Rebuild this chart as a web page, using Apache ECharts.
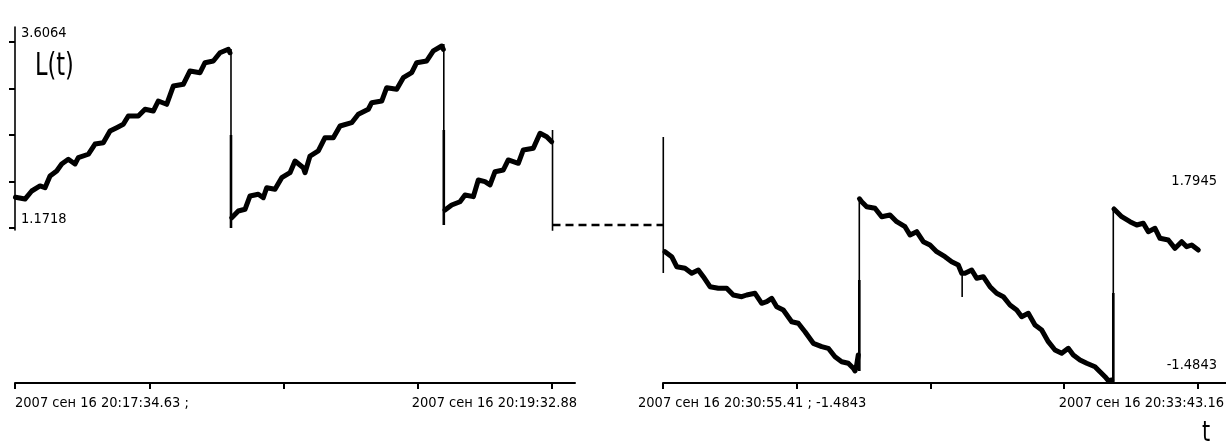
<!DOCTYPE html>
<html>
<head>
<meta charset="utf-8">
<script src="https://cdn.jsdelivr.net/npm/echarts@6/dist/echarts.min.js"></script>
<style>
  html, body { margin: 0; padding: 0; background: #fff; }
  #chart { width: 1226px; height: 443px; }
</style>
</head>
<body>
<div id="chart"></div>
<script>
// Time axis of each window: seconds from its first timestamp. Values: L(t).
const leftTimeLabels = ['2007 сен 16 20:17:34.63 ;', '2007 сен 16 20:19:32.88'];
const rightTimeLabels = ['2007 сен 16 20:30:55.41 ; -1.4843', '2007 сен 16 20:33:43.16'];

const leftTickTimes = [0, 29.5625, 59.125, 88.6875, 118.25];      // 20:17:34.63 … 20:19:32.88
const rightTickTimes = [0, 41.9375, 83.875, 125.8125, 167.75];    // 20:30:55.41 … 20:33:43.16
const leftValueTicks = [1.1718, 1.78045, 2.3891, 2.99775, 3.6064];
const leftValueLabels = [1.1718, 3.6064];
const rightValueLabels = [-1.4843, 1.7945];

// first window: three ramps
const leftRun1 = [[0.1,1.575],[0.37,1.568],[2.20,1.551],[3.68,1.656],[5.51,1.722],[6.61,1.699],[7.71,1.852],[9.18,1.918],[10.28,2.010],[11.74,2.071],[13.21,2.010],[13.94,2.092],[16.14,2.137],[17.62,2.271],[19.44,2.288],[20.92,2.441],[22.39,2.485],[23.85,2.529],[24.95,2.638],[27.15,2.638],[28.63,2.726],[30.45,2.703],[31.55,2.834],[33.40,2.791],[34.86,3.030],[37.06,3.053],[38.54,3.227],[40.74,3.205],[41.84,3.335],[43.67,3.358],[45.14,3.466],[46.97,3.511],[47.34,3.466]];
const leftRun2 = [[47.72,1.307],[49.17,1.394],[50.65,1.417],[51.75,1.591],[53.57,1.613],[54.67,1.568],[55.42,1.699],[57.25,1.678],[58.73,1.830],[60.56,1.896],[61.66,2.049],[63.48,1.961],[63.86,1.896],[64.96,2.114],[66.79,2.180],[68.26,2.354],[70.09,2.354],[71.57,2.507],[74.14,2.550],[75.60,2.660],[77.80,2.726],[78.55,2.812],[80.75,2.834],[81.85,3.008],[84.05,2.987],[85.50,3.139],[87.35,3.205],[88.45,3.335],[90.66,3.358],[92.11,3.489],[93.96,3.554],[94.31,3.511]];
const leftRun3 = [[94.69,1.407],[96.16,1.473],[97.99,1.516],[99.09,1.604],[100.92,1.582],[102.02,1.800],[103.49,1.778],[104.60,1.735],[105.70,1.909],[107.52,1.931],[108.62,2.062],[110.83,2.019],[111.93,2.193],[114.13,2.215],[115.61,2.411],[117.08,2.367],[118.18,2.301]];

// second window: falling runs
const rightRun1 = [[0.63,0.838],[2.73,0.749],[4.30,0.570],[6.90,0.542],[9.00,0.453],[11.07,0.512],[12.64,0.392],[14.74,0.214],[17.34,0.185],[19.97,0.185],[22.04,0.066],[24.68,0.036],[26.24,0.066],[28.85,0.096],[30.95,-0.082],[32.52,-0.053],[34.08,0.007],[35.65,-0.143],[37.72,-0.201],[40.35,-0.410],[42.42,-0.438],[44.52,-0.588],[47.13,-0.795],[49.76,-0.855],[51.83,-0.884],[53.93,-1.034],[56.03,-1.123],[58.10,-1.151],[59.67,-1.240],[60.20,-1.288],[60.73,-1.181],[61.23,-1.003]];
const rightRun2 = [[61.6,1.78],[62.30,1.729],[63.87,1.640],[66.47,1.611],[68.57,1.461],[71.18,1.492],[73.28,1.372],[75.88,1.283],[77.45,1.135],[79.55,1.194],[81.62,1.016],[83.72,0.957],[85.82,0.838],[88.42,0.749],[90.52,0.659],[92.59,0.601],[93.66,0.453],[94.69,0.453],[96.79,0.512],[98.36,0.364],[100.43,0.392],[102.53,0.214],[104.63,0.096],[106.70,0.036],[108.80,-0.112],[110.90,-0.201],[112.47,-0.321],[114.54,-0.260],[116.64,-0.469],[118.74,-0.558],[120.81,-0.766],[122.91,-0.914],[125.01,-0.973],[127.08,-0.884],[128.65,-1.003],[130.75,-1.092],[132.85,-1.151],[135.45,-1.212],[137.02,-1.301],[138.59,-1.390],[139.63,-1.461],[140.69,-1.449]];
const rightRun3 = [[141.4,1.600],[141.72,1.581],[143.83,1.461],[146.43,1.372],[148.53,1.313],[150.60,1.344],[152.17,1.194],[154.27,1.255],[155.83,1.076],[158.44,1.046],[160.54,0.898],[162.64,1.016],[164.21,0.927],[165.78,0.957],[167.85,0.868]];

// vertical jumps and window edge markers: [time, from, to]
const leftJumps = [[47.56, 3.515, 1.1718], [94.42, 3.580, 1.211], [118.36, 2.455, 0.661]];
const leftJumpsHeavy = [[47.56, 2.389, 1.1718], [94.42, 2.455, 1.211]];
const rightJumps = [[0.09, 2.882, 0.458], [61.55, 1.7945, -1.288], [93.80, 0.470, 0.030], [141.19, 1.611, -1.4843]];
const rightJumpsHeavy = [[61.55, 0.333, -1.288], [141.19, 0.102, -1.4843]];

// level joining the two windows across the gap
const gapLevel = 1.211;

const FONT = "'Liberation Sans Narrow', 'DejaVu Sans Condensed', 'Liberation Sans', sans-serif";
const INK = '#000';

function runSeries(data, x, y) {
  return {
    type: 'line', xAxisIndex: x, yAxisIndex: y, data: data,
    symbol: 'none', silent: true,
    lineStyle: { color: INK, width: 5, join: 'round', cap: 'round' }
  };
}
function jumpSeries(j, x, y, w) {
  return {
    type: 'line', xAxisIndex: x, yAxisIndex: y,
    data: [[j[0], j[1]], [j[0], j[2]]],
    symbol: 'none', silent: true,
    lineStyle: { color: INK, width: w }
  };
}

const series = [
  runSeries(leftRun1, 0, 0), runSeries(leftRun2, 0, 0), runSeries(leftRun3, 0, 0),
  runSeries(rightRun1, 2, 2), runSeries(rightRun2, 2, 2), runSeries(rightRun3, 2, 2)
];
leftJumps.forEach(j => series.push(jumpSeries(j, 0, 0, 1.6)));
leftJumpsHeavy.forEach(j => series.push(jumpSeries(j, 0, 0, 2.6)));
rightJumps.forEach(j => series.push(jumpSeries(j, 2, 2, 1.6)));
rightJumpsHeavy.forEach(j => series.push(jumpSeries(j, 2, 2, 2.6)));
series.push({
  type: 'line', xAxisIndex: 1, yAxisIndex: 1,
  data: [[0, gapLevel], [1, gapLevel]],
  symbol: 'none', silent: true,
  lineStyle: { color: INK, width: 2.6, type: [8, 5] }
});

const axisText = { color: INK, fontFamily: FONT, fontSize: 14.5 };

const option = {
  animation: false,
  backgroundColor: '#fff',
  grid: [
    { left: 15, top: 27, width: 560, height: 203, outerBoundsMode: 'none' },
    { left: 552.5, top: 27, width: 110.5, height: 203, outerBoundsMode: 'none' },
    { left: 663, top: 130, width: 563, height: 252, outerBoundsMode: 'none' }
  ],
  xAxis: [
    {
      gridIndex: 0, type: 'value', min: 0, max: 123.31, offset: 153,
      splitLine: { show: false },
      axisLine: { onZero: false, lineStyle: { color: INK, width: 2 } },
      axisTick: { customValues: leftTickTimes, length: 6, lineStyle: { color: INK, width: 2 } },
      axisLabel: Object.assign({
        customValues: [0, 123.31], margin: 13, padding: [0, -2, 0, 0], hideOverlap: false,
        alignMinLabel: 'left', alignMaxLabel: 'right',
        formatter: v => (v === 0 ? leftTimeLabels[0] : leftTimeLabels[1])
      }, axisText)
    },
    { gridIndex: 1, type: 'value', min: 0, max: 1, show: false },
    {
      gridIndex: 2, type: 'value', min: 0, max: 176.53, offset: 1,
      splitLine: { show: false },
      axisLine: { onZero: false, lineStyle: { color: INK, width: 2 } },
      axisTick: { customValues: rightTickTimes, length: 6, lineStyle: { color: INK, width: 2 } },
      axisLabel: Object.assign({
        customValues: [0, 176.53], margin: 13, padding: [0, 2, 0, -25], hideOverlap: false,
        alignMinLabel: 'left', alignMaxLabel: 'right',
        formatter: v => (v === 0 ? rightTimeLabels[0] : rightTimeLabels[1])
      }, axisText)
    }
  ],
  yAxis: [
    {
      gridIndex: 0, type: 'value', min: 1.1456, max: 3.8027,
      splitLine: { show: false },
      axisLine: { show: true, onZero: false, lineStyle: { color: INK, width: 1.6 } },
      axisTick: { show: true, customValues: leftValueTicks, length: 6, lineStyle: { color: INK, width: 2 } },
      axisLabel: Object.assign({
        customValues: leftValueLabels, inside: true, margin: 6,
        verticalAlign: 'bottom', padding: [0, 0, 1, 0],
        formatter: v => v.toFixed(4)
      }, axisText)
    },
    { gridIndex: 1, type: 'value', min: 1.1456, max: 3.8027, show: false },
    {
      gridIndex: 2, type: 'value', position: 'right', min: -1.4843, max: 3.0063,
      splitLine: { show: false },
      axisLine: { show: false, onZero: false },
      axisTick: { show: false },
      axisLabel: Object.assign({
        customValues: rightValueLabels, inside: true, margin: 9,
        verticalAlign: 'bottom', padding: [0, 0, 9, 0],
        formatter: v => v.toFixed(4)
      }, axisText)
    }
  ],
  graphic: [
    { type: 'text', x: 35, y: 51, scaleX: 0.78, silent: true,
      style: { text: 'L(t)', fill: INK, font: '32px ' + FONT } },
    { type: 'text', x: 1202, y: 419, scaleX: 0.8, silent: true,
      style: { text: 't', fill: INK, font: '29px ' + FONT } }
  ],
  series: series
};

const chart = echarts.init(document.getElementById('chart'), null, { renderer: 'canvas' });
chart.setOption(option);
</script>
</body>
</html>
